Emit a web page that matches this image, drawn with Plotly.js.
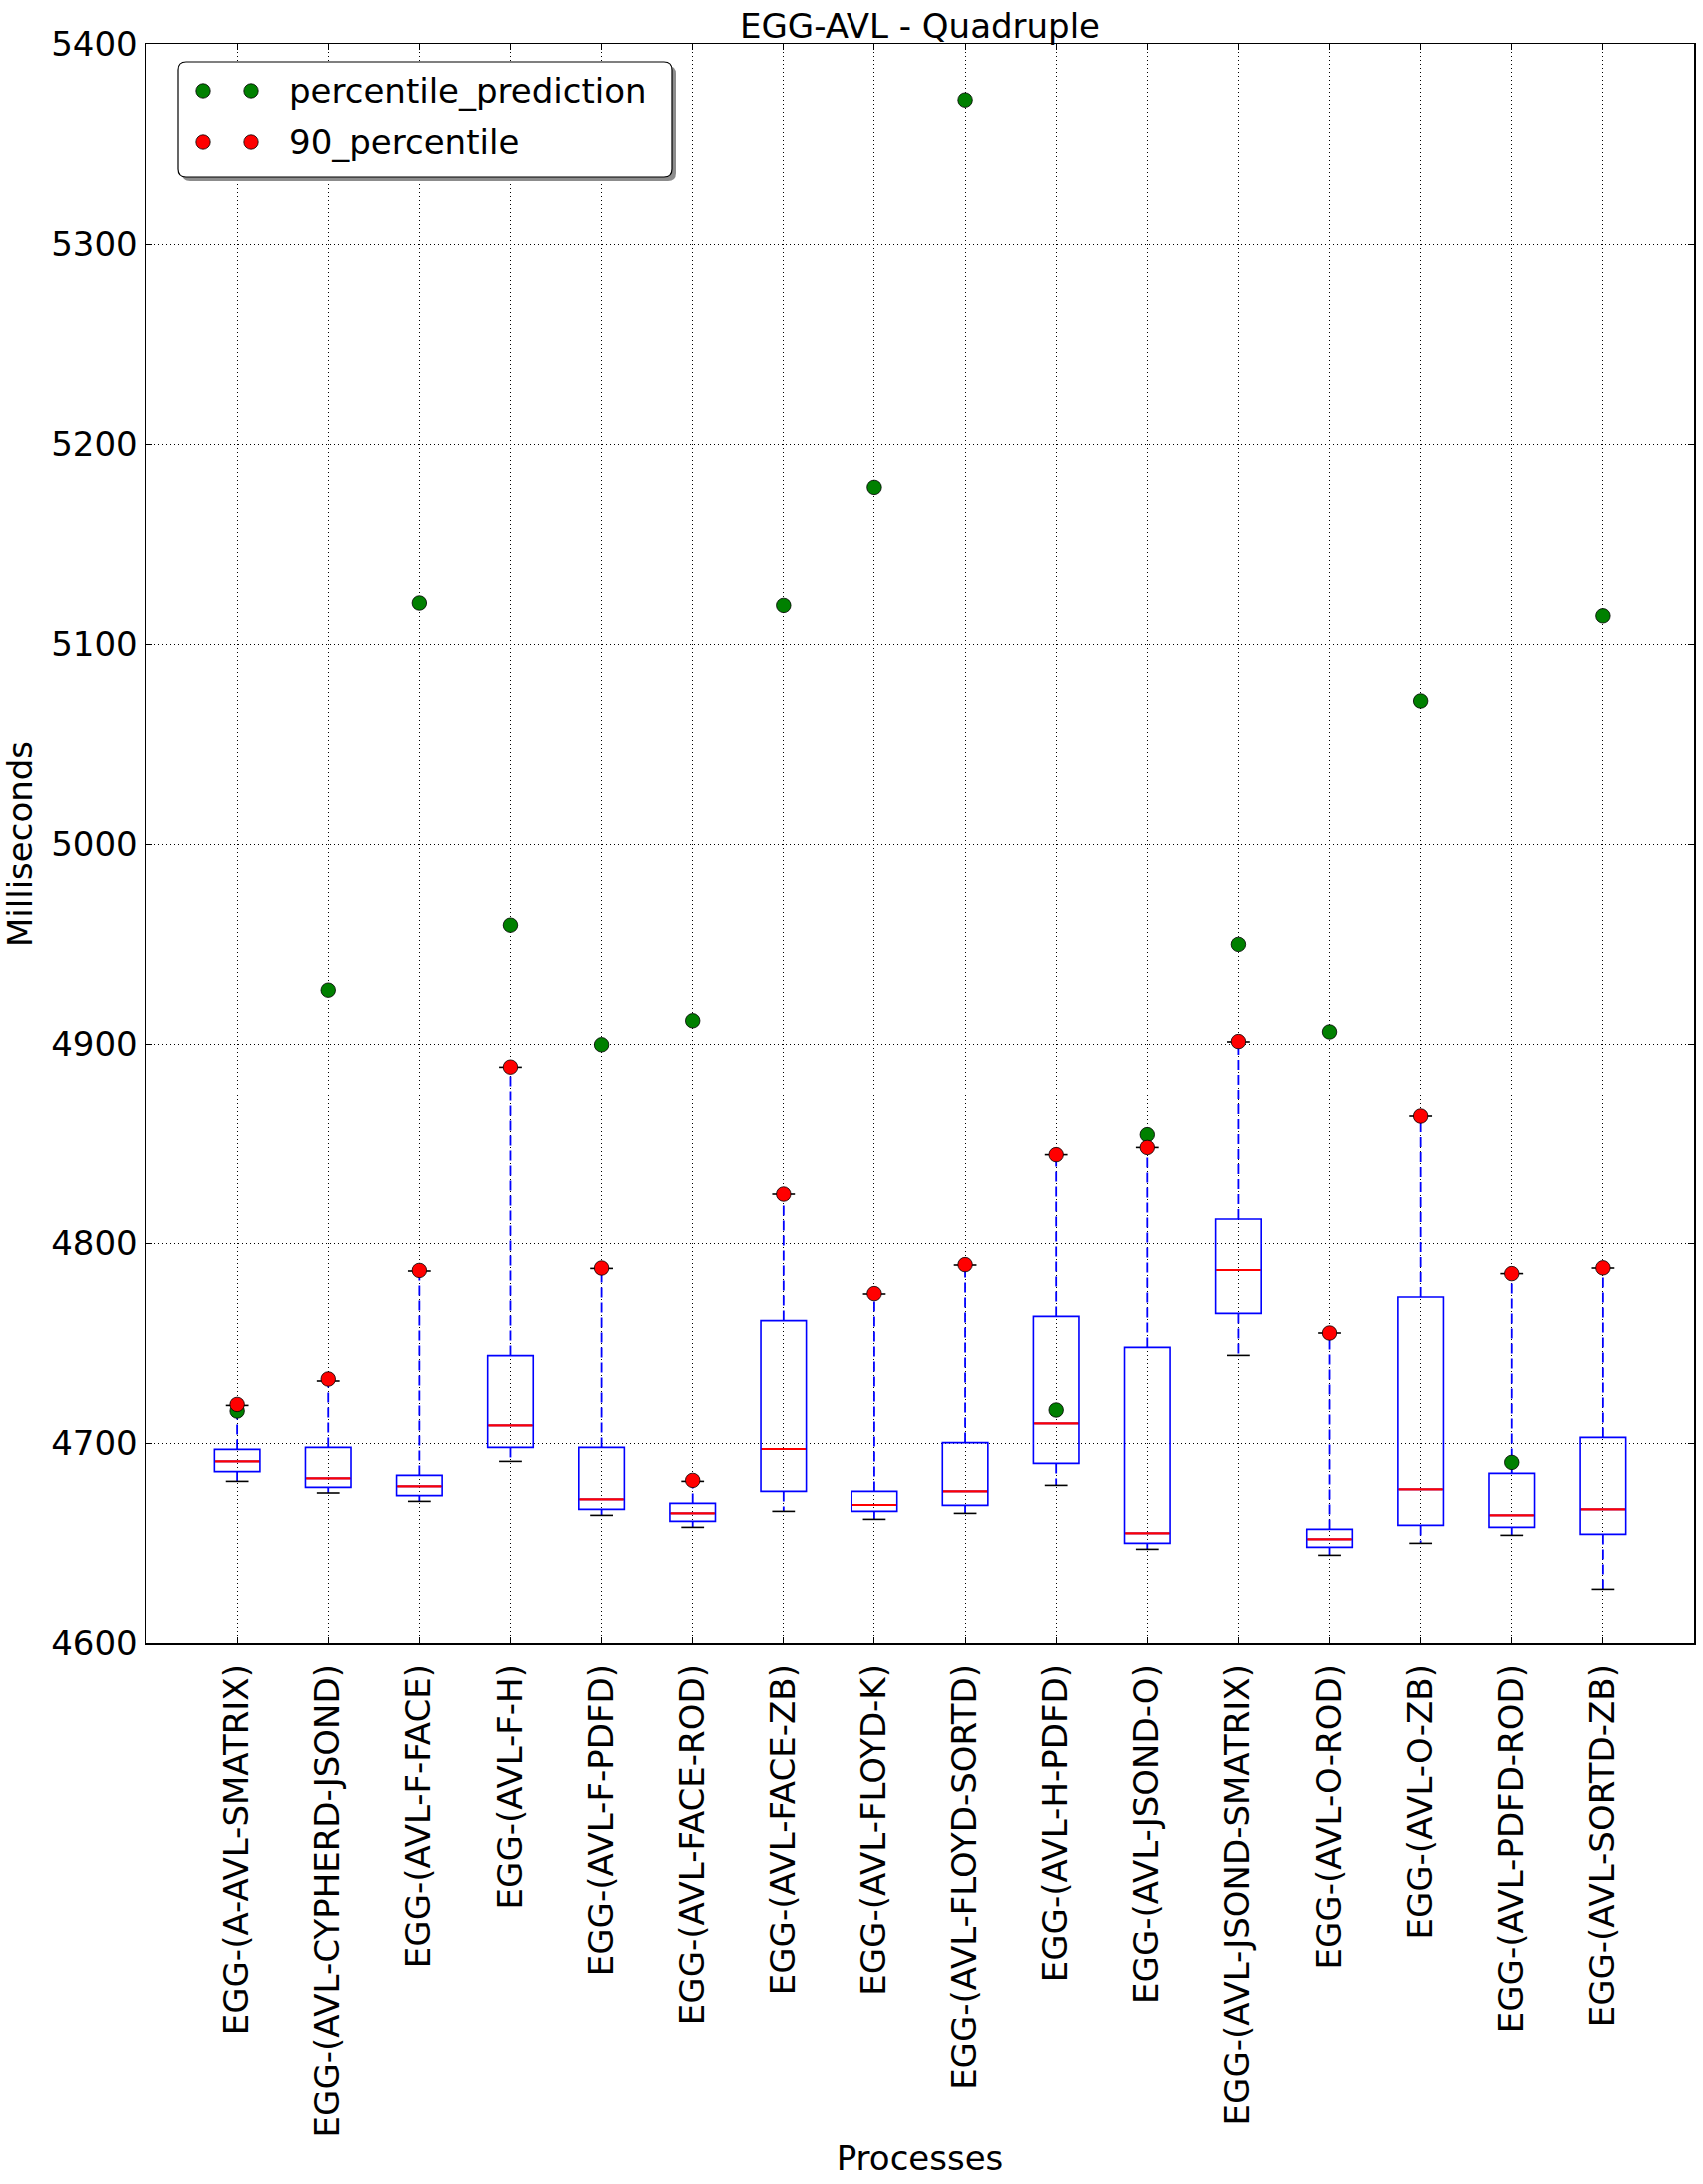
<!DOCTYPE html>
<html>
<head>
<meta charset="utf-8">
<script src="https://cdn.plot.ly/plotly-3.0.1.min.js"></script>
<style>
  html, body { margin: 0; padding: 0; background: #fff; }
  #chart { width: 1704px; height: 2185px; }
</style>
</head>
<body>
<div id="chart"></div>
<script>
// ---------------- data ----------------
const categories = [
  "EGG-(A-AVL-SMATRIX)",
  "EGG-(AVL-CYPHERD-JSOND)",
  "EGG-(AVL-F-FACE)",
  "EGG-(AVL-F-H)",
  "EGG-(AVL-F-PDFD)",
  "EGG-(AVL-FACE-ROD)",
  "EGG-(AVL-FACE-ZB)",
  "EGG-(AVL-FLOYD-K)",
  "EGG-(AVL-FLOYD-SORTD)",
  "EGG-(AVL-H-PDFD)",
  "EGG-(AVL-JSOND-O)",
  "EGG-(AVL-JSOND-SMATRIX)",
  "EGG-(AVL-O-ROD)",
  "EGG-(AVL-O-ZB)",
  "EGG-(AVL-PDFD-ROD)",
  "EGG-(AVL-SORTD-ZB)"
];
const whiskerLow  = [4680.8, 4675.0, 4670.8, 4690.8, 4663.8, 4657.8, 4665.8, 4661.8, 4664.8, 4678.8, 4646.8, 4743.8, 4643.8, 4649.8, 4653.8, 4626.8];
const q1Values    = [4685.7, 4677.8, 4673.7, 4697.8, 4666.8, 4660.8, 4675.8, 4665.8, 4668.8, 4689.8, 4649.8, 4764.8, 4647.8, 4658.8, 4657.8, 4654.3];
const medianValues= [4690.8, 4682.3, 4678.3, 4708.8, 4671.8, 4664.8, 4697.0, 4669.0, 4675.8, 4709.8, 4654.8, 4786.5, 4651.8, 4676.8, 4663.8, 4666.8];
const q3Values    = [4696.8, 4697.8, 4683.8, 4743.7, 4697.8, 4669.8, 4761.2, 4675.8, 4700.2, 4763.3, 4747.8, 4812.0, 4656.8, 4773.0, 4684.8, 4702.8];
const whiskerHigh = [4718.8, 4731.0, 4786.0, 4888.3, 4787.3, 4680.8, 4824.5, 4774.5, 4789.0, 4844.2, 4847.8, 4901.0, 4755.0, 4863.5, 4784.7, 4787.5];
const percentile90 = [4719.3, 4732.0, 4786.3, 4888.4, 4787.5, 4681.3, 4824.5, 4774.7, 4789.2, 4844.2, 4847.8, 4901.2, 4755.0, 4863.5, 4784.7, 4787.6];
const percentilePrediction = [4716.0, 4926.9, 5120.5, 4959.4, 4899.6, 4911.6, 5119.3, 5178.3, 5371.9, 4716.5, 4854.2, 4949.8, 4906.0, 5071.5, 4690.3, 5114.1];
const yTicks = [4600, 4700, 4800, 4900, 5000, 5100, 5200, 5300, 5400];
const legendLabels = ["percentile_prediction", "90_percentile"];

// ---------------- layout constants ----------------
const FONT = "DejaVu Sans, Bitstream Vera Sans, sans-serif";
const M = {l: 146, r: 9, t: 44, b: 541};
const W = 1704, H = 2185;
const PW = W - M.l - M.r, PH = H - M.t - M.b;
const px = v => (v - M.l) / PW;          // pixel x -> paper
const py = v => (H - M.b - v) / PH;      // pixel y -> paper
const BOX_WIDTH = 0.5;                    // category units
const BOX_PX = BOX_WIDTH * PW / (categories.length + 1);
const LINE_EW = 1.4;                      // plotly line-ew length factor

// whisker segments built from the data arrays
const wx = [], wy = [];
categories.forEach((c, i) => {
  wx.push(c, c, null, c, c, null);
  wy.push(q3Values[i], whiskerHigh[i], null, q1Values[i], whiskerLow[i], null);
});

const traces = [
  {
    type: 'box', x: categories,
    q1: q1Values, median: medianValues, q3: q3Values,
    lowerfence: q1Values, upperfence: q3Values,
    width: BOX_WIDTH, whiskerwidth: 0,
    line: {color: '#0000ff', width: 1.6},
    fillcolor: 'rgba(0,0,0,0)',
    boxpoints: false, showlegend: false, name: 'box'
  },
  {
    type: 'scatter', mode: 'lines', x: wx, y: wy,
    line: {color: '#0000ff', width: 1.8, dash: '10px,5px'},
    showlegend: false, hoverinfo: 'skip', connectgaps: false
  },
  {
    type: 'scatter', mode: 'markers',
    x: categories.concat(categories), y: whiskerLow.concat(whiskerHigh),
    marker: {symbol: 'line-ew', size: BOX_PX / 2 / LINE_EW, color: '#000', line: {color: '#000', width: 1.6}},
    showlegend: false, hoverinfo: 'skip'
  },
  {
    type: 'scatter', mode: 'markers', x: categories, y: medianValues,
    marker: {symbol: 'line-ew', size: (BOX_PX - 1.5) / LINE_EW, color: '#ff0000', line: {color: '#ff0000', width: 2.2}},
    showlegend: false, hoverinfo: 'skip'
  },
  {
    type: 'scatter', mode: 'markers', name: legendLabels[0],
    x: categories, y: percentilePrediction,
    marker: {symbol: 'circle', size: 14.5, color: '#008000', line: {color: '#000', width: 0.8}},
    showlegend: false
  },
  {
    type: 'scatter', mode: 'markers', name: legendLabels[1],
    x: categories, y: percentile90,
    marker: {symbol: 'circle', size: 14.5, color: '#ff0000', line: {color: '#000', width: 0.8}},
    showlegend: false
  }
];

// ---------------- hand-drawn matplotlib-style legend ----------------
function roundRectPath(x0, y0, x1, y1, r) {
  const P = (x, y) => px(x).toFixed(6) + ',' + py(y).toFixed(6);
  return 'M' + P(x0 + r, y0) + ' L' + P(x1 - r, y0) + ' Q' + P(x1, y0) + ' ' + P(x1, y0 + r) +
         ' L' + P(x1, y1 - r) + ' Q' + P(x1, y1) + ' ' + P(x1 - r, y1) +
         ' L' + P(x0 + r, y1) + ' Q' + P(x0, y1) + ' ' + P(x0, y1 - r) +
         ' L' + P(x0, y0 + r) + ' Q' + P(x0, y0) + ' ' + P(x0 + r, y0) + ' Z';
}
const LB = {x0: 178, y0: 62, x1: 672, y1: 177};
const rowY = [91, 142];
const dotX = [203, 251];
const dotR = 7.2;
const dotColors = ['#008000', '#ff0000'];
const shapes = [
  {type: 'path', xref: 'paper', yref: 'paper', path: roundRectPath(LB.x0 + 4, LB.y0 + 4, LB.x1 + 4, LB.y1 + 4, 8),
   fillcolor: '#8c8c8c', line: {width: 0}, layer: 'above'},
  {type: 'path', xref: 'paper', yref: 'paper', path: roundRectPath(LB.x0, LB.y0, LB.x1, LB.y1, 8),
   fillcolor: '#ffffff', line: {color: '#000', width: 1.2}, layer: 'above'}
];
const annotations = [];
rowY.forEach((ry, k) => {
  dotX.forEach(dx => {
    shapes.push({type: 'circle', xref: 'paper', yref: 'paper',
      x0: px(dx - dotR), x1: px(dx + dotR), y0: py(ry + dotR), y1: py(ry - dotR),
      fillcolor: dotColors[k], line: {color: '#000', width: 0.8}, layer: 'above'});
  });
  annotations.push({xref: 'paper', yref: 'paper', x: px(287), y: py(ry),
    xanchor: 'left', yanchor: 'middle', showarrow: false, text: legendLabels[k],
    font: {family: FONT, size: 34, color: '#000'}});
});

const layout = {
  width: W, height: H,
  margin: M,
  paper_bgcolor: '#fff', plot_bgcolor: '#fff',
  showlegend: false,
  font: {family: FONT, size: 34, color: '#000'},
  title: {text: 'EGG-AVL - Quadruple', font: {family: FONT, size: 34, color: '#000'},
          xref: 'paper', x: 0.5, xanchor: 'center', yref: 'container', y: 1 - 26 / H, yanchor: 'middle'},
  xaxis: {
    type: 'category', range: [-1, categories.length],
    tickangle: -90, tickfont: {family: FONT, size: 34, color: '#000'},
    ticks: 'inside', ticklen: 6, tickwidth: 1, tickcolor: '#000',
    showline: true, linecolor: '#000', linewidth: 1.5, mirror: 'ticks',
    showgrid: true, gridcolor: '#000', gridwidth: 1, griddash: '1px,3px',
    zeroline: false, automargin: false, ticklabelstandoff: 6,
    title: {text: 'Processes', font: {family: FONT, size: 34, color: '#000'}, standoff: 10}
  },
  yaxis: {
    range: [4600, 5400], tickvals: yTicks, ticktext: yTicks.map(String),
    tickfont: {family: FONT, size: 34, color: '#000'},
    ticks: 'inside', ticklen: 6, tickwidth: 1, tickcolor: '#000',
    showline: true, linecolor: '#000', linewidth: 1.5, mirror: 'ticks',
    showgrid: true, gridcolor: '#000', gridwidth: 1, griddash: '1px,3px',
    zeroline: false, automargin: false,
    title: {text: 'Milliseconds', font: {family: FONT, size: 34, color: '#000'}, standoff: 8}
  },
  shapes: shapes,
  annotations: annotations
};

Plotly.newPlot('chart', traces, layout, {staticPlot: true, displayModeBar: false});
</script>
</body>
</html>
